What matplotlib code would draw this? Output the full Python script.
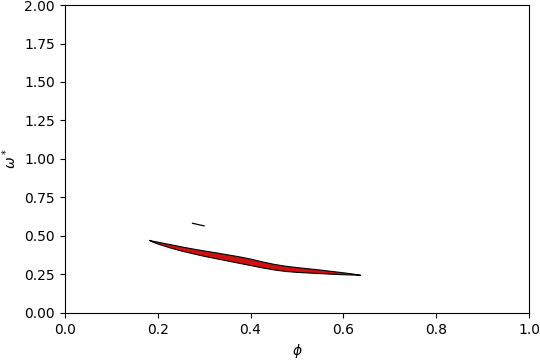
import matplotlib
matplotlib.use("Agg")
import matplotlib.pyplot as plt
import numpy as np

phi = [0.181, 0.19, 0.20, 0.225, 0.25, 0.275, 0.30, 0.325, 0.35, 0.375, 0.40,
       0.425, 0.45, 0.475, 0.50, 0.525, 0.55, 0.575, 0.60, 0.62, 0.636]
omega_upper = [0.474, 0.468, 0.462, 0.447, 0.432, 0.418, 0.405, 0.393, 0.380, 0.367, 0.352,
               0.334, 0.318, 0.306, 0.297, 0.289, 0.281, 0.272, 0.263, 0.255, 0.247]
omega_lower = [0.474, 0.461, 0.450, 0.426, 0.405, 0.387, 0.370, 0.355, 0.340, 0.325, 0.310,
               0.295, 0.282, 0.272, 0.266, 0.262, 0.258, 0.254, 0.251, 0.249, 0.247]

seg_phi = [0.275, 0.300]
seg_omega = [0.582, 0.565]

fig = plt.figure(figsize=(5.4, 3.6), dpi=100)
ax = fig.add_axes([0.12, 0.131, 0.86, 0.855])
ax.fill_between(phi, omega_lower, omega_upper, facecolor="#d01010",
                edgecolor="black", linewidth=0.8)
ax.plot(seg_phi, seg_omega, color="black", linewidth=0.9)
ax.set_xlim(0, 1)
ax.set_ylim(0, 2)
ax.set_yticks(np.arange(0, 2.01, 0.25))
ax.set_xlabel(r"$\phi$")
ax.set_ylabel(r"$\omega^*$")
fig.savefig("out.png", dpi=100)
